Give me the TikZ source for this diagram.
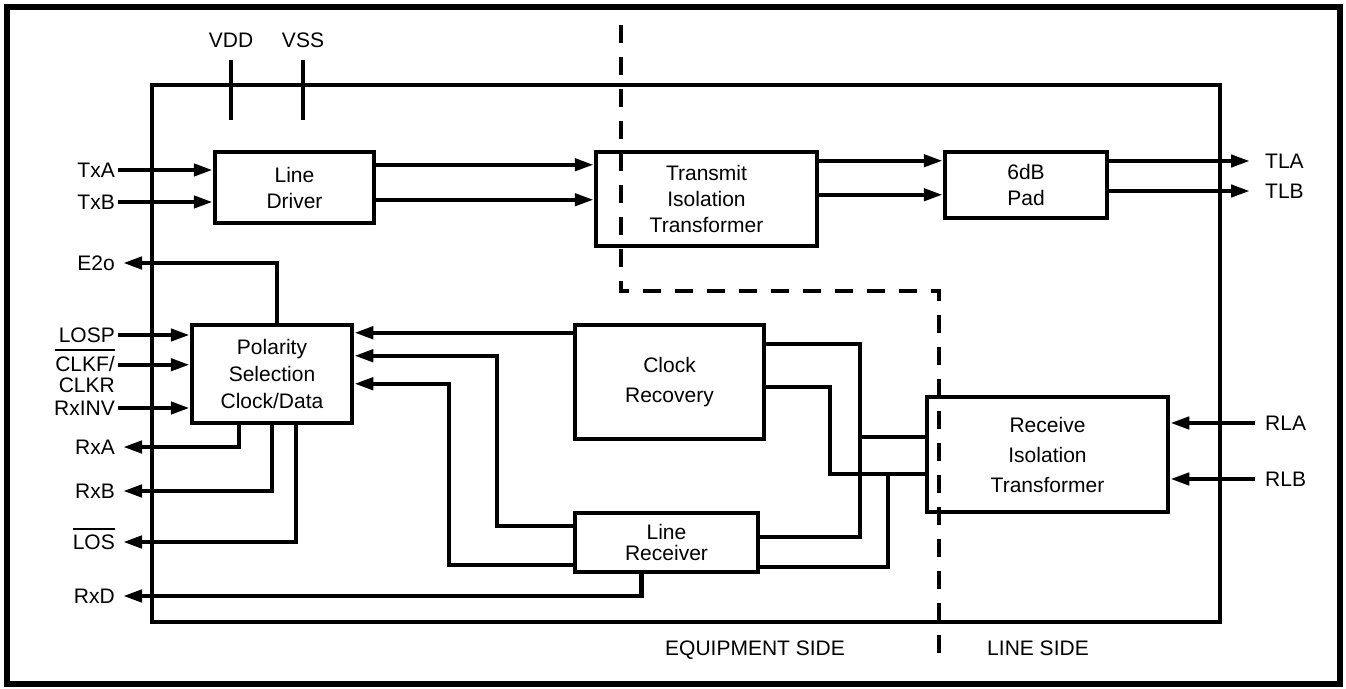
\documentclass[tikz,border=0pt]{standalone}
\usepackage{fontspec}
\setmainfont{Liberation Sans}
\usetikzlibrary{arrows.meta}

\newcommand{\ovl}[1]{\vbox{\hrule height 2pt\kern 5pt\hbox{#1}}}

\tikzset{
	blk/.style={draw, line width=4.5pt, inner sep=0pt, align=center, font=\fontsize{21}{26}\selectfont},
	lbl/.style={inner sep=3pt, text height=15pt, text depth=0pt, font=\fontsize{21}{21}\selectfont},
	wire/.style={line width=4.3pt},
	sig/.style={wire, -{Triangle[length=19pt,width=12pt]}},
	bdry/.style={line width=4pt, dash pattern=on 18pt off 14pt}
}

\begin{document}
\begin{tikzpicture}[x=1pt, y=-1pt]
		\useasboundingbox (0,0) rectangle (1346,688);
		\draw[line width=5.5pt] (7,7) rectangle (1340,684);
		\draw[line width=4pt] (152,85) rectangle (1220,622);
		\draw[bdry] (621,25) -- (621,291) -- (939,291) -- (939,657);

		\node[blk, minimum width=159pt, minimum height=71pt] (drv) at (294.5,187.5) {Line\\Driver};
		\node[blk, minimum width=221pt, minimum height=94pt] (xmt) at (706.5,199) {Transmit\\Isolation\\Transformer};
		\node[blk, minimum width=162pt, minimum height=66pt] (pad) at (1026,185) {6dB\\Pad};
		\node[blk, minimum width=160pt, minimum height=98pt, font=\fontsize{21}{27}\selectfont] (pol) at (272,374) {Polarity\\Selection\\Clock/Data};
		\node[blk, minimum width=189pt, minimum height=114pt, font=\fontsize{21}{30}\selectfont] (clk) at (669.5,382) {Clock\\Recovery};
		\node[blk, minimum width=183pt, minimum height=59pt, font=\fontsize{21}{21}\selectfont] (rcv) at (666.5,542.5) {Line\\Receiver};
		\node[blk, minimum width=241pt, minimum height=115pt, font=\fontsize{21}{30}\selectfont] (rxt) at (1047.5,454.5) {Receive\\Isolation\\Transformer};

		\node[lbl] (vdd) at (231,40) {VDD};
		\node[lbl] (vss) at (303,40) {VSS};
		\node[lbl, anchor=east] (txa) at (118,170) {TxA};
		\node[lbl, anchor=east] (txb) at (118,202) {TxB};
		\node[lbl, anchor=east] (e2o) at (118,263) {E2o};
		\node[lbl, anchor=east] (losp) at (118,335) {LOSP};
		\node[lbl, anchor=north east, text height=, text depth=, align=right] (clkf) at (118,346) {\ovl{CLKF/}\\CLKR};
		\node[lbl, anchor=east] (rxinv) at (118,408) {RxINV};
		\node[lbl, anchor=east] (rxa) at (118,447) {RxA};
		\node[lbl, anchor=east] (rxb) at (118,491) {RxB};
		\node[lbl, anchor=east] (los) at (118,542) {\ovl{LOS}};
		\node[lbl, anchor=east] (rxd) at (118,596) {RxD};
		\node[lbl, anchor=west] (tla) at (1262,161) {TLA};
		\node[lbl, anchor=west] (tlb) at (1262,191) {TLB};
		\node[lbl, anchor=west] (rla) at (1262,423) {RLA};
		\node[lbl, anchor=west] (rlb) at (1262,479) {RLB};
		\node[lbl] (eqs) at (755,648) {EQUIPMENT SIDE};
		\node[lbl] (lns) at (1038,648) {LINE SIDE};

		\coordinate (ja) at (860,437);
		\coordinate (jc) at (830,474);
		\coordinate (jb) at (888,474);
		\path ([yshift=-42pt]pol.north west) coordinate (pclk);

		\draw[wire] (vdd.south) ++(0,9) -- ++(0,60);
		\draw[wire] (vss.south) ++(0,9) -- ++(0,60);

		\draw[sig] (txa.east) -- (drv.west |- txa.east);
		\draw[sig] (txb.east) -- (drv.west |- txb.east);
		\draw[sig] ([yshift=-15pt]drv.north east) -- ([yshift=-15pt]xmt.north west);
		\draw[sig] ([yshift=-50pt]drv.north east) -- ([yshift=-50pt]xmt.north west);
		\draw[sig] ([yshift=-11pt]xmt.north east) -- ([yshift=-11pt]pad.north west);
		\draw[sig] ([yshift=-45pt]xmt.north east) -- ([yshift=-45pt]pad.north west);
		\draw[sig, shorten >=12pt] (pad.east |- tla.west) -- (tla.west);
		\draw[sig, shorten >=12pt] (pad.east |- tlb.west) -- (tlb.west);
		\draw[sig, shorten <=7pt] (rla.west) -- (rxt.east |- rla.west);
		\draw[sig, shorten <=7pt] (rlb.west) -- (rxt.east |- rlb.west);

		\draw[sig] (losp.east) -- (pol.west |- losp.east);
		\draw[sig] (clkf.east |- pclk) -- (pclk);
		\draw[sig] (rxinv.east) -- (pol.west |- rxinv.east);
		\draw[sig, shorten >=5pt] ([xshift=5pt]pol.north) |- (e2o.east);
		\draw[sig, shorten >=5pt] ([xshift=-33pt]pol.south) |- (rxa.east);
		\draw[sig, shorten >=5pt] (pol.south) |- (rxb.east);
		\draw[sig, shorten >=5pt] ([xshift=24pt]pol.south) |- (los.east);
		\draw[sig, shorten >=5pt] ([xshift=-25pt]rcv.south) |- (rxd.east);

		\draw[sig] ([yshift=-10pt]clk.north west) -- ([yshift=-10pt]pol.north east);
		\draw[sig] ([yshift=-15pt]rcv.north west) -- ++(-76,0) |- ([yshift=-33pt]pol.north east);
		\draw[sig] ([yshift=9pt]rcv.south west) -- ++(-124,0) |- ([yshift=-61pt]pol.north east);

		\draw[wire] ([yshift=-21pt]clk.north east) -| (ja) |- ([yshift=-26pt]rcv.north east);
		\draw[wire] (ja) -- (rxt.west |- ja);
		\draw[wire] ([yshift=-64pt]clk.north east) -| (jc) -- (rxt.west |- jc);
		\draw[wire] (jb) |- ([yshift=7pt]rcv.south east);
\end{tikzpicture}
\end{document}
